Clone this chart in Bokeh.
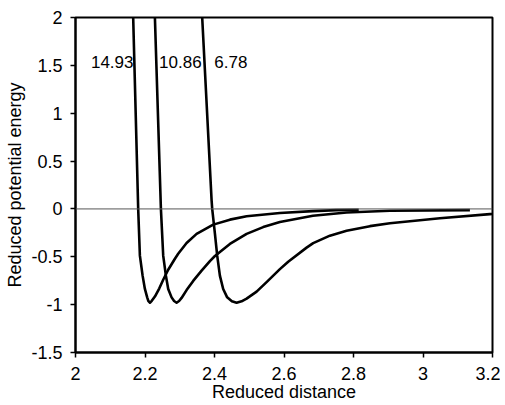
from bokeh.plotting import figure
from bokeh.models import FixedTicker, Span, Range1d
from bokeh.core.properties import value
from bokeh.embed import file_html
from bokeh.resources import INLINE

# Curve 14.93
x_a = [2.164, 2.166, 2.1804, 2.1853, 2.1931, 2.1997, 2.2063, 2.2095, 2.2141, 2.2195, 2.2285,
       2.2409, 2.2524, 2.2668, 2.2861, 2.2955, 2.3197, 2.3485, 2.3963, 2.4444, 2.4924,
       2.5882, 2.683, 2.75, 2.815]
y_a = [2.3, 2.0, 0.0, -0.488, -0.697, -0.836, -0.924, -0.96, -0.98, -0.96, -0.915,
       -0.832, -0.74, -0.635, -0.52, -0.468, -0.356, -0.261, -0.164, -0.112, -0.077,
       -0.042, -0.023, -0.013, -0.008]

# Curve 10.86
x_b = [2.227, 2.2285, 2.2458, 2.2524, 2.2601, 2.2668, 2.2765, 2.2837, 2.2909, 2.2981, 2.3053,
       2.3197, 2.3387, 2.3629, 2.3868, 2.4012, 2.4443, 2.4924, 2.5401, 2.5882, 2.6832,
       2.7801, 2.9048, 3.135]
y_b = [2.3, 2.0, 0.0, -0.488, -0.697, -0.836, -0.924, -0.962, -0.98, -0.962, -0.93,
       -0.848, -0.752, -0.645, -0.545, -0.492, -0.366, -0.261, -0.190, -0.136, -0.072,
       -0.038, -0.019, -0.012]

# Curve 6.78
x_c = [2.362, 2.3646, 2.3917, 2.3934, 2.4012, 2.4078, 2.4155, 2.4250, 2.4365, 2.4500, 2.4636,
       2.4780, 2.4924, 2.5212, 2.5499, 2.5882, 2.6121, 2.6650, 2.6840, 2.7321, 2.7801,
       2.8472, 2.9048, 3.0486, 3.1925, 3.2]
y_c = [2.3, 2.0, 0.087, 0.0, -0.258, -0.488, -0.697, -0.836, -0.924, -0.965, -0.98,
       -0.965, -0.937, -0.864, -0.765, -0.629, -0.551, -0.404, -0.357, -0.279, -0.227,
       -0.180, -0.150, -0.097, -0.054, -0.053]

curve_labels = ["14.93", "10.86", "6.78"]
label_x = [2.0445, 2.2405, 2.3995]
label_y = [1.53, 1.53, 1.53]

x_ticks = [2, 2.2, 2.4, 2.6, 2.8, 3, 3.2]
x_tick_labels = ["2", "2.2", "2.4", "2.6", "2.8", "3", "3.2"]
y_ticks = [-1.5, -1, -0.5, 0, 0.5, 1, 1.5, 2]
y_tick_labels = ["-1.5", "-1", "-0.5", "0", "0.5", "1", "1.5", "2"]

p = figure(width=500, height=405, output_backend="svg", toolbar_location=None,
           x_range=Range1d(2, 3.2), y_range=Range1d(-1.5, 2),
           min_border_left=75, min_border_right=8, min_border_top=17, min_border_bottom=53)
p.xgrid.visible = False
p.ygrid.visible = False
p.outline_line_color = "black"
p.outline_line_width = 2
p.background_fill_color = "white"
p.border_fill_color = "white"

p.add_layout(Span(location=0, dimension="width", line_color="#555555", line_width=1))

for xs, ys in [(x_a, y_a), (x_b, y_b), (x_c, y_c)]:
    p.line(xs, ys, line_color="black", line_width=2.6, line_join="round")

p.text(x=label_x, y=label_y, text=curve_labels,
       text_font=value("Liberation Sans"),
       text_font_size="17px", text_align="left", text_baseline="middle", text_color="black")

p.xaxis.ticker = FixedTicker(ticks=x_ticks)
p.yaxis.ticker = FixedTicker(ticks=y_ticks)
p.xaxis.major_label_overrides = {t: l for t, l in zip(x_ticks, x_tick_labels)}
p.yaxis.major_label_overrides = {t: l for t, l in zip(y_ticks, y_tick_labels)}
p.xaxis.axis_label = "Reduced distance"
p.yaxis.axis_label = "Reduced potential energy"
for ax in [p.xaxis, p.yaxis]:
    ax.axis_line_color = "black"
    ax.axis_line_width = 2
    ax.major_tick_line_color = "black"
    ax.major_tick_line_width = 1.5
    ax.major_tick_out = 5
    ax.major_tick_in = 0
    ax.minor_tick_line_color = None
    ax.major_label_text_font = "Liberation Sans"
    ax.major_label_text_font_size = "18px"
    ax.major_label_text_color = "black"
    ax.axis_label_text_font = "Liberation Sans"
    ax.axis_label_text_font_size = "18px"
    ax.axis_label_text_font_style = "normal"
    ax.axis_label_text_color = "black"
p.xaxis.major_label_standoff = 9
p.yaxis.major_label_standoff = 8
p.xaxis.axis_label_standoff = -1
p.yaxis.axis_label_standoff = 3

open("out.html", "w").write(file_html(p, INLINE))
